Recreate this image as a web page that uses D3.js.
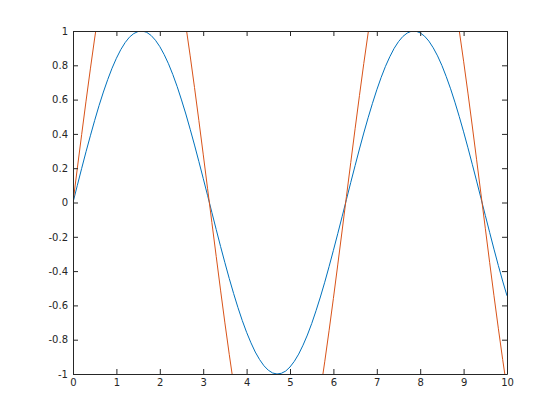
<!DOCTYPE html>
<html>
<head>
<meta charset="utf-8">
<script src="https://cdn.jsdelivr.net/npm/d3@7"></script>
<style>
  body { margin: 0; background: #fff; }
  svg { display: block; }
</style>
</head>
<body>
<svg></svg>
<script>
// x samples 0:0.1:10
let xs = d3.range(101).map((i) => i / 10)

// blue series
let blue = [
  0.000, 0.100, 0.199, 0.296, 0.389, 0.479, 0.565, 0.644, 0.717, 0.783,
  0.841, 0.891, 0.932, 0.964, 0.985, 0.997, 1.000, 0.992, 0.974, 0.946,
  0.909, 0.863, 0.809, 0.746, 0.676, 0.598, 0.516, 0.427, 0.335, 0.239,
  0.141, 0.042, -0.058, -0.158, -0.256, -0.351, -0.443, -0.530, -0.612, -0.688,
  -0.757, -0.818, -0.872, -0.916, -0.952, -0.978, -0.994, -1.000, -0.996, -0.983,
  -0.959, -0.926, -0.884, -0.832, -0.773, -0.706, -0.631, -0.551, -0.465, -0.374,
  -0.279, -0.182, -0.083, 0.017, 0.117, 0.215, 0.312, 0.405, 0.494, 0.578,
  0.657, 0.729, 0.794, 0.850, 0.899, 0.938, 0.968, 0.988, 0.999, 0.999,
  0.989, 0.970, 0.941, 0.902, 0.855, 0.799, 0.734, 0.663, 0.585, 0.501,
  0.412, 0.319, 0.223, 0.125, 0.025, -0.075, -0.174, -0.272, -0.367, -0.458,
  -0.544
]

// orange series (runs past the axes limits, clipped)
let orange = [
  0.000, 0.200, 0.397, 0.591, 0.779, 0.959, 1.129, 1.288, 1.435, 1.567,
  1.683, 1.782, 1.864, 1.927, 1.971, 1.995, 1.999, 1.983, 1.948, 1.893,
  1.819, 1.726, 1.617, 1.491, 1.351, 1.197, 1.031, 0.855, 0.670, 0.478,
  0.282, 0.083, -0.117, -0.315, -0.511, -0.702, -0.885, -1.060, -1.224, -1.376,
  -1.514, -1.637, -1.743, -1.832, -1.903, -1.955, -1.987, -2.000, -1.992, -1.965,
  -1.918, -1.852, -1.767, -1.665, -1.546, -1.411, -1.263, -1.101, -0.929, -0.748,
  -0.559, -0.364, -0.166, 0.034, 0.233, 0.430, 0.623, 0.810, 0.988, 1.157,
  1.314, 1.458, 1.587, 1.701, 1.797, 1.876, 1.936, 1.976, 1.997, 1.998,
  1.979, 1.940, 1.881, 1.804, 1.709, 1.597, 1.469, 1.326, 1.170, 1.002,
  0.824, 0.638, 0.446, 0.249, 0.050, -0.150, -0.349, -0.544, -0.733, -0.915,
  -1.088
]

let xTicks = [0, 1, 2, 3, 4, 5, 6, 7, 8, 9, 10]
let yTicks = [-1, -0.8, -0.6, -0.4, -0.2, 0, 0.2, 0.4, 0.6, 0.8, 1]

let w = 560
let h = 420
let padLeft = 73
let padRight = 507
let padTop = 31
let padBottom = 374
let axisColor = '#262626'

let svg = d3.select('svg').attr('width', w).attr('height', h)

let xScale = d3.scaleLinear().domain([0, 10]).range([padLeft, padRight])
let yScale = d3.scaleLinear().domain([-1, 1]).range([padBottom, padTop])

let fmt = (d) => String(+d.toFixed(1))

svg.append('defs').append('clipPath')
   .attr('id', 'plot-clip')
   .append('rect')
   .attr('x', padLeft)
   .attr('y', padTop)
   .attr('width', padRight - padLeft)
   .attr('height', padBottom - padTop)

let line = d3.line()
             .x((d, i) => xScale(xs[i]))
             .y((d) => yScale(d))

let plot = svg.append('g').attr('clip-path', 'url(#plot-clip)')

plot.append('path')
    .datum(blue)
    .attr('d', line)
    .attr('fill', 'none')
    .attr('stroke', '#0072BD')
    .attr('stroke-width', 1)

plot.append('path')
    .datum(orange)
    .attr('d', line)
    .attr('fill', 'none')
    .attr('stroke', '#D95319')
    .attr('stroke-width', 1)

let styleAxis = (g, showText) => {
    g.select('.domain').attr('stroke', axisColor)
    g.selectAll('.tick line').attr('stroke', axisColor)
    g.selectAll('.tick text')
     .attr('fill', axisColor)
     .attr('font-family', 'DejaVu Sans, sans-serif')
     .attr('font-size', '10px')
    if (!showText) g.selectAll('.tick text').remove()
}

svg.append('g')
   .attr('transform', 'translate(0,' + padBottom + ')')
   .call(d3.axisBottom(xScale).tickValues(xTicks).tickFormat(fmt)
           .tickSizeInner(-5).tickSizeOuter(0).tickPadding(5))
   .call((g) => styleAxis(g, true))

svg.append('g')
   .attr('transform', 'translate(0,' + padTop + ')')
   .call(d3.axisTop(xScale).tickValues(xTicks)
           .tickSizeInner(-5).tickSizeOuter(0))
   .call((g) => styleAxis(g, false))

svg.append('g')
   .attr('transform', 'translate(' + padLeft + ',0)')
   .call(d3.axisLeft(yScale).tickValues(yTicks).tickFormat(fmt)
           .tickSizeInner(-5).tickSizeOuter(0).tickPadding(5))
   .call((g) => styleAxis(g, true))

svg.append('g')
   .attr('transform', 'translate(' + padRight + ',0)')
   .call(d3.axisRight(yScale).tickValues(yTicks)
           .tickSizeInner(-5).tickSizeOuter(0))
   .call((g) => styleAxis(g, false))
</script>
</body>
</html>
